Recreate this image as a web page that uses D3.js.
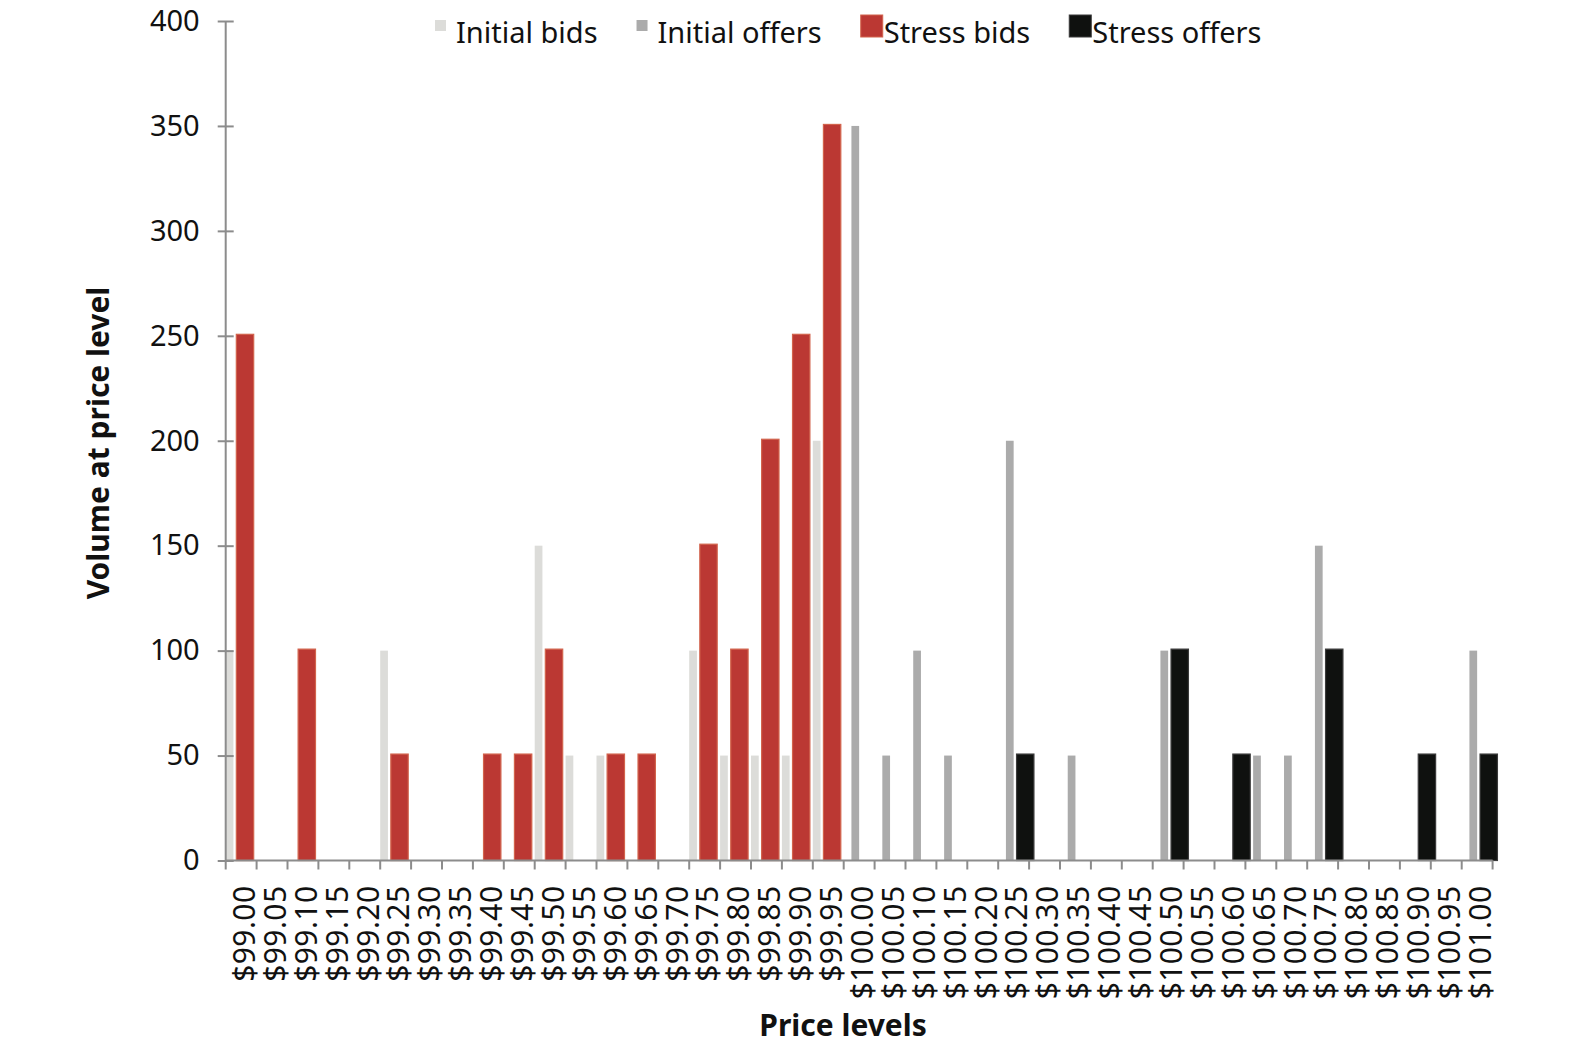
<!DOCTYPE html>
<html>
<head>
<meta charset="utf-8">
<script src="https://cdn.jsdelivr.net/npm/d3@7"></script>
<style>
    html, body { margin: 0; padding: 0; background: #fff; }
    svg { display: block; font-family: "Noto Sans", sans-serif; }
</style>
</head>
<body>
<svg id="chart" width="1575" height="1050"></svg>
<script>
'use strict';

const priceLevels = [
    '$99.00', '$99.05', '$99.10', '$99.15', '$99.20', '$99.25', '$99.30', '$99.35', '$99.40', '$99.45',
    '$99.50', '$99.55', '$99.60', '$99.65', '$99.70', '$99.75', '$99.80', '$99.85', '$99.90', '$99.95',
    '$100.00', '$100.05', '$100.10', '$100.15', '$100.20', '$100.25', '$100.30', '$100.35', '$100.40', '$100.45',
    '$100.50', '$100.55', '$100.60', '$100.65', '$100.70', '$100.75', '$100.80', '$100.85', '$100.90', '$100.95',
    '$101.00'
];

const initialBids = [
    100, 0, 0, 0, 0, 100, 0, 0, 0, 0,
    150, 50, 50, 0, 0, 100, 50, 50, 50, 200,
    0, 0, 0, 0, 0, 0, 0, 0, 0, 0,
    0, 0, 0, 0, 0, 0, 0, 0, 0, 0,
    0
];

const initialOffers = [
    0, 0, 0, 0, 0, 0, 0, 0, 0, 0,
    0, 0, 0, 0, 0, 0, 0, 0, 0, 0,
    350, 50, 100, 50, 0, 200, 0, 50, 0, 0,
    100, 0, 0, 50, 50, 150, 0, 0, 0, 0,
    100
];

const stressBids = [
    250, 0, 100, 0, 0, 50, 0, 0, 50, 50,
    100, 0, 50, 50, 0, 150, 100, 200, 250, 350,
    0, 0, 0, 0, 0, 0, 0, 0, 0, 0,
    0, 0, 0, 0, 0, 0, 0, 0, 0, 0,
    0
];

const stressOffers = [
    0, 0, 0, 0, 0, 0, 0, 0, 0, 0,
    0, 0, 0, 0, 0, 0, 0, 0, 0, 0,
    0, 0, 0, 0, 0, 50, 0, 0, 0, 0,
    100, 0, 50, 0, 0, 100, 0, 0, 50, 0,
    50
];

const seriesNames = ['Initial bids', 'Initial offers', 'Stress bids', 'Stress offers'];
const yTicks = [0, 50, 100, 150, 200, 250, 300, 350, 400];

class VolumeChart {
    constructor(svgNode) {
        this.svg = d3.select(svgNode);
        this.left = 225.7;
        this.right = 1492.6;
        this.top = 21;
        this.bottom = 860.5;
        this.axisColor = '#8c8c8c';
        this.styles = {
            'Initial bids':  { fill: '#dcdcd9', stroke: 'none', wide: false },
            'Initial offers': { fill: '#ababab', stroke: 'none', wide: false },
            'Stress bids':   { fill: '#bb3833', stroke: '#d2634c', wide: true },
            'Stress offers': { fill: '#0f110f', stroke: '#3a3a3a', wide: true }
        };
        this.series = [initialBids, initialOffers, stressBids, stressOffers];
        this.setUpScales();
        this.drawChart();
    }

    setUpScales() {
        this.xScale = d3.scaleBand()
            .domain(priceLevels)
            .range([this.left, this.right])
            .padding(0);

        // four slots per price level, the stress bars spill over their slot
        this.slotScale = d3.scaleBand()
            .domain(seriesNames)
            .range([0, this.xScale.bandwidth()])
            .padding(0);

        this.yScale = d3.scaleLinear()
            .domain([0, 400])
            .range([this.bottom, this.top]);
    }

    drawChart() {
        this.drawBars();
        this.drawYAxis();
        this.drawXAxis();
        this.drawTitles();
        this.drawLegend();
    }

    drawBars() {
        const slot = this.slotScale.bandwidth();

        seriesNames.forEach((name, k) => {
            const style = this.styles[name];
            const width = style.wide ? slot * 2.25 : slot;
            const rows = this.series[k]
                .map((v, i) => ({ price: priceLevels[i], value: v }))
                .filter(d => d.value > 0);

            this.svg.append('g')
                .attr('class', 'series')
                .selectAll('rect')
                .data(rows)
                .enter()
                .append('rect')
                .attr('x', d => this.xScale(d.price) + this.slotScale(name) + slot / 2 - width / 2)
                .attr('width', width)
                .attr('y', d => this.yScale(d.value) - (style.wide ? 1.5 : 0))
                .attr('height', d => this.yScale(0) - this.yScale(d.value) + (style.wide ? 1.5 : 0))
                .attr('fill', style.fill)
                .attr('stroke', style.stroke)
                .attr('stroke-width', style.stroke === 'none' ? 0 : 1.2);
        });
    }

    drawYAxis() {
        const yAxis = d3.axisLeft(this.yScale)
            .tickValues(yTicks)
            .tickSize(8)
            .tickPadding(18);

        const g = this.svg.append('g')
            .attr('class', 'y axis')
            .attr('transform', `translate(${this.left},0)`)
            .call(yAxis);

        g.select('.domain').remove();
        g.append('line')
            .attr('y1', this.top)
            .attr('y2', this.bottom)
            .attr('stroke', this.axisColor)
            .attr('stroke-width', 2);
        g.selectAll('.tick line')
            .attr('x1', -8)
            .attr('x2', 8)
            .attr('stroke', this.axisColor)
            .attr('stroke-width', 2);
        g.selectAll('.tick text')
            .attr('fill', '#111')
            .style('font-size', '29px')
            .style('font-family', '"Noto Sans", sans-serif');
    }

    drawXAxis() {
        const g = this.svg.append('g')
            .attr('class', 'x axis')
            .attr('transform', `translate(0,${this.bottom})`);

        g.append('line')
            .attr('x1', this.left)
            .attr('x2', this.right)
            .attr('stroke', this.axisColor)
            .attr('stroke-width', 2);

        const edges = priceLevels.map(p => this.xScale(p)).concat([this.right]);
        g.selectAll('line.tick')
            .data(edges)
            .enter()
            .append('line')
            .attr('class', 'tick')
            .attr('x1', d => d)
            .attr('x2', d => d)
            .attr('y1', 0)
            .attr('y2', 9)
            .attr('stroke', this.axisColor)
            .attr('stroke-width', 2);

        g.selectAll('text')
            .data(priceLevels)
            .enter()
            .append('text')
            .attr('transform', d => `translate(${this.xScale(d) + this.xScale.bandwidth() / 2 + 3},25) rotate(-90)`)
            .attr('dy', '0.36em')
            .attr('text-anchor', 'end')
            .attr('fill', '#111')
            .style('font-size', '30px')
            .style('letter-spacing', '0.4px')
            .text(d => d);
    }

    drawTitles() {
        this.svg.append('text')
            .attr('transform', 'translate(109,443) rotate(-90)')
            .attr('text-anchor', 'middle')
            .attr('font-weight', 'bold')
            .attr('fill', '#111')
            .style('font-size', '30px')
            .text('Volume at price level');

        this.svg.append('text')
            .attr('x', 843)
            .attr('y', 1036)
            .attr('text-anchor', 'middle')
            .attr('font-weight', 'bold')
            .attr('fill', '#111')
            .style('font-size', '30px')
            .text('Price levels');
    }

    drawLegend() {
        const legend = this.svg.append('g').attr('class', 'legend');
        let x = 435;

        seriesNames.forEach(name => {
            const style = this.styles[name];
            const size = style.wide ? 22 : 11;
            const swatchY = style.wide ? 15 : 20;
            const textGap = style.wide ? 1 : 10;

            legend.append('rect')
                .attr('x', x)
                .attr('y', swatchY)
                .attr('width', size)
                .attr('height', size)
                .attr('fill', style.fill)
                .attr('stroke', style.stroke)
                .attr('stroke-width', style.stroke === 'none' ? 0 : 1);

            const label = legend.append('text')
                .attr('x', x + size + textGap)
                .attr('y', 43)
                .attr('fill', '#111')
                .style('font-size', '29px')
                .text(name);

            x += size + textGap + label.node().getComputedTextLength() + 39;
        });
    }
}

new VolumeChart(document.getElementById('chart'));
</script>
</body>
</html>
